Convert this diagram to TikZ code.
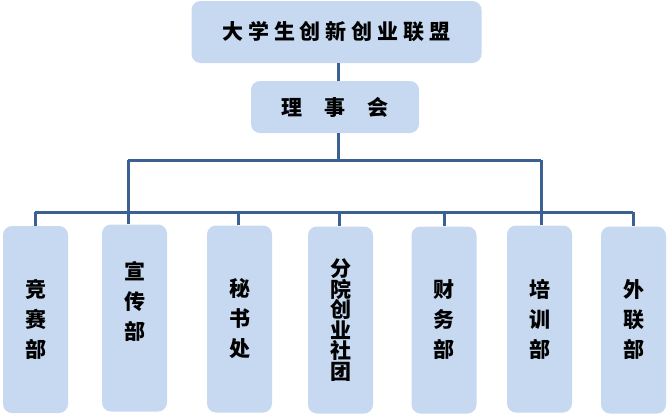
\documentclass[tikz,border=0pt]{standalone}
\usepackage{fontspec}
\newfontfamily\cjk{Noto Sans CJK SC}
\definecolor{boxfill}{HTML}{C6D9F1}
\definecolor{linec}{HTML}{3A6192}
\begin{document}
\begin{tikzpicture}[x=1pt,y=-1pt,
  box/.style={fill=boxfill,rounded corners=9pt,inner sep=0pt,align=center,font=\cjk\bfseries\fontsize{21}{30}\selectfont},
  dept/.style={box,minimum width=65pt,minimum height=187pt},
  conn/.style={draw=linec,line width=3pt}]
\useasboundingbox (0,0) rectangle (668,415);
\node[box,minimum width=290pt,minimum height=62pt] (top) at (336.5,32) {大\hspace{5pt}学\hspace{5pt}生\hspace{5pt}创\hspace{5pt}新\hspace{5pt}创\hspace{5pt}业\hspace{5pt}联\hspace{5pt}盟};
\node[box,minimum width=168pt,minimum height=52pt] (lsh) at (335,107) {理\hspace{22pt}事\hspace{22pt}会};
\node[dept] (b1) at (35.5,319.5) {竞\\赛\\部};
\node[dept] (b2) at (134.5,318) {宣\\传\\部\\[6pt]};
\node[dept] (b3) at (239.5,319) {秘\\书\\处};
\node[dept,font=\cjk\bfseries\fontsize{21}{20.5}\selectfont] (b4) at (340.5,320) {分\\院\\创\\业\\社\\团};
\node[dept] (b5) at (444,320) {财\\务\\部};
\node[dept] (b6) at (539.5,319) {培\\训\\部};
\node[dept] (b7) at (633.5,320) {外\\联\\部};
\coordinate (h1L) at (128,160);
\coordinate (h1R) at (541,160);
\coordinate (h2L) at (35,212);
\coordinate (h2R) at (633,212);
\draw[conn] (top.south -| 338,0) -- (lsh.north -| 338,0);
\draw[conn] (lsh.south -| 338,0) -- (338,160);
\draw[conn] (h1L) -- (h1R);
\draw[conn] (h1L) -- (h1L |- h2L);
\draw[conn] (h1R) -- (h1R |- h2L);
\draw[conn] (h2L) -- (h2R);
\draw[conn] (h2L) -- (b1.north -| h2L);
\draw[conn] (b2.north -| h1L) -- (h1L |- h2L);
\draw[conn] (b3.north -| 238,0) -- (238,212);
\draw[conn] (b4.north -| 339,0) -- (339,212);
\draw[conn] (b5.north -| 444,0) -- (444,212);
\draw[conn] (b6.north -| h1R) -- (h1R |- h2L);
\draw[conn] (h2R) -- (b7.north -| h2R);
\end{tikzpicture}
\end{document}
